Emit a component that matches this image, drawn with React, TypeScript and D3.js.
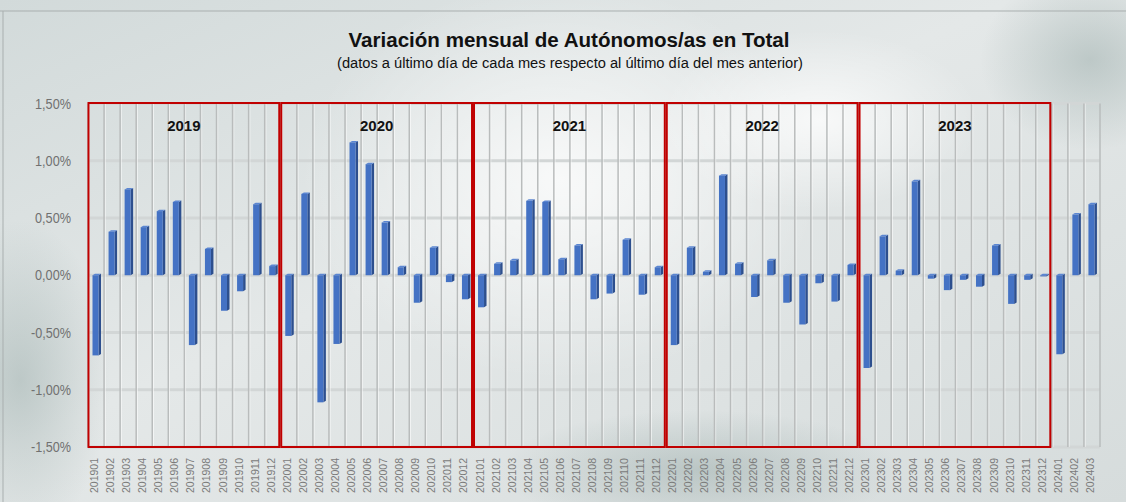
import React from "react";
import * as d3 from "d3";

// meses 2019-01 .. 2024-03
const years = ["2019", "2020", "2021", "2022", "2023"];
const months = [
  "201901", "201902", "201903", "201904", "201905", "201906", "201907", "201908", "201909", "201910", "201911", "201912",
  "202001", "202002", "202003", "202004", "202005", "202006", "202007", "202008", "202009", "202010", "202011", "202012",
  "202101", "202102", "202103", "202104", "202105", "202106", "202107", "202108", "202109", "202110", "202111", "202112",
  "202201", "202202", "202203", "202204", "202205", "202206", "202207", "202208", "202209", "202210", "202211", "202212",
  "202301", "202302", "202303", "202304", "202305", "202306", "202307", "202308", "202309", "202310", "202311", "202312",
  "202401", "202402", "202403",
];
// variacion mensual, en %
const variacion = [
  -0.70, 0.38, 0.75, 0.42, 0.56, 0.64, -0.61, 0.23, -0.31, -0.14, 0.62, 0.08,
  -0.53, 0.71, -1.11, -0.60, 1.16, 0.97, 0.46, 0.07, -0.24, 0.24, -0.06, -0.21,
  -0.28, 0.10, 0.13, 0.65, 0.64, 0.14, 0.26, -0.21, -0.16, 0.31, -0.17, 0.07,
  -0.61, 0.24, 0.03, 0.87, 0.10, -0.19, 0.13, -0.24, -0.43, -0.07, -0.23, 0.09,
  -0.81, 0.34, 0.04, 0.82, -0.03, -0.13, -0.04, -0.10, 0.26, -0.25, -0.04, -0.01,
  -0.69, 0.53, 0.62,
];
const yTicks = [1.5, 1.0, 0.5, 0, -0.5, -1.0, -1.5];

const W = 1126;
const H = 502;
const plot = { left: 88, right: 1100, top: 103.5, bottom: 447 };

export default function App() {
  const x = d3.scaleBand<string>().domain(months).range([plot.left, plot.right]).padding(0);
  const y = d3.scaleLinear().domain([-1.5, 1.5]).range([plot.bottom, plot.top]);
  const bw = x.bandwidth();
  const fmt = (v: number) => d3.format(".2f")(v).replace(".", ",").replace("−", "-") + "%";

  const frontW = 6;
  const depth = 2.5;
  const lift = 1.5;

  return (
    <svg width={W} height={H} style={{ position: "absolute", left: 0, top: 0, fontFamily: "Liberation Sans, Arial, sans-serif" }}>
      <defs>
        <linearGradient id="bg" x1="0" y1="0" x2="1" y2="1">
          <stop offset="0" stopColor="#d2dada" />
          <stop offset="0.45" stopColor="#e4e8e8" />
          <stop offset="1" stopColor="#d6dcdc" />
        </linearGradient>
        <radialGradient id="glow" cx="0.5" cy="0.5" r="0.5">
          <stop offset="0" stopColor="#ffffff" stopOpacity="0.75" />
          <stop offset="1" stopColor="#ffffff" stopOpacity="0" />
        </radialGradient>
        <radialGradient id="dark" cx="0.5" cy="0.5" r="0.5">
          <stop offset="0" stopColor="#9fb0ae" stopOpacity="0.55" />
          <stop offset="1" stopColor="#9fb0ae" stopOpacity="0" />
        </radialGradient>
      </defs>

      {/* fondo */}
      <rect x={0} y={0} width={W} height={H} fill="url(#bg)" />
      <ellipse cx={560} cy={180} rx={260} ry={200} fill="url(#glow)" />
      <ellipse cx={820} cy={120} rx={160} ry={90} fill="url(#glow)" />
      <ellipse cx={20} cy={380} rx={90} ry={160} fill="url(#dark)" />
      <ellipse cx={1090} cy={60} rx={110} ry={90} fill="url(#dark)" />
      <ellipse cx={700} cy={470} rx={200} ry={60} fill="url(#dark)" />
      <line x1={0} x2={W} y1={11} y2={11} stroke="#a9afaf" strokeWidth={1} />
      <line x1={3} x2={3} y1={11} y2={H} stroke="#a9afaf" strokeWidth={1} />

      {/* titulos */}
      <text x={569} y={47} textAnchor="middle" fontSize={20} fontWeight="bold" fill="#111" textLength={441} lengthAdjust="spacingAndGlyphs">
        Variación mensual de Autónomos/as en Total
      </text>
      <text x={570} y={68} textAnchor="middle" fontSize={14} fill="#111" textLength={466} lengthAdjust="spacingAndGlyphs">
        (datos a último día de cada mes respecto al último día del mes anterior)
      </text>

      {/* rejilla */}
      {yTicks.map((t) => (
        <line key={"h" + t} x1={plot.left} x2={plot.right} y1={y(t)} y2={y(t)} stroke="#d2d6d6" strokeWidth={3} />
      ))}
      {months.map((m) => (
        <g key={"v" + m}>
          <line x1={x(m)! + 1.2} x2={x(m)! + 1.2} y1={plot.top} y2={plot.bottom} stroke="#ffffff" strokeOpacity={0.6} strokeWidth={1} />
          <line x1={x(m)!} x2={x(m)!} y1={plot.top} y2={plot.bottom} stroke="#b9bcbc" strokeWidth={1.5} />
        </g>
      ))}
      <line x1={plot.right} x2={plot.right} y1={plot.top} y2={plot.bottom} stroke="#b9bcbc" strokeWidth={1.5} />

      {/* ejes Y */}
      {yTicks.map((t) => (
        <text key={"yl" + t} x={71} y={y(t) + 5} textAnchor="end" fontSize={14} fill="#707070" textLength={t < 0 ? 40 : 36} lengthAdjust="spacingAndGlyphs">
          {fmt(t)}
        </text>
      ))}

      {/* barras 3D */}
      {variacion.map((v, i) => {
        const m = months[i];
        const x0 = x(m)! + 4.5;
        const yTop = y(Math.max(0, v));
        const yBot = y(Math.min(0, v));
        return (
          <g key={"b" + m}>
            <polygon
              points={`${x0 + frontW},${yTop} ${x0 + frontW + depth},${yTop - lift} ${x0 + frontW + depth},${yBot - lift} ${x0 + frontW},${yBot}`}
              fill="#2d4f8e"
            />
            <polygon
              points={`${x0},${yTop} ${x0 + depth},${yTop - lift} ${x0 + frontW + depth},${yTop - lift} ${x0 + frontW},${yTop}`}
              fill="#5b86d2"
            />
            <rect x={x0} y={yTop} width={frontW} height={Math.max(0.5, yBot - yTop)} fill="#4472c4" />
          </g>
        );
      })}

      {/* cajas de año */}
      {years.map((yr, k) => {
        const x0 = x(months[k * 12])! + 0.5;
        const x1 = x(months[k * 12 + 11])! + bw - 1.5;
        return (
          <g key={"yr" + yr}>
            <rect x={x0} y={plot.top - 0.5} width={x1 - x0} height={plot.bottom - plot.top + 0.5} fill="none" stroke="#c00000" strokeWidth={2} />
            <text x={(x0 + x1) / 2} y={131} textAnchor="middle" fontSize={15} fontWeight="bold" fill="#111">
              {yr}
            </text>
          </g>
        );
      })}

      {/* etiquetas X */}
      {months.map((m) => (
        <text
          key={"xl" + m}
          transform={`translate(${x(m)! + 10},458) rotate(-90)`}
          textAnchor="end"
          fontSize={11}
          fill="#7a7a7a"
          textLength={35}
          lengthAdjust="spacingAndGlyphs"
        >
          {m}
        </text>
      ))}
    </svg>
  );
}
